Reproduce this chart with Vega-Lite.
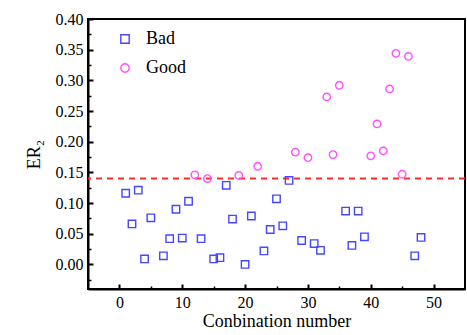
{
  "$schema": "https://vega.github.io/schema/vega-lite/v6.json",
  "width": 377,
  "height": 270,
  "autosize": "none",
  "padding": {"left": 88, "top": 19, "right": 2, "bottom": 46},
  "config": {
    "font": "Liberation Serif",
    "view": {"stroke": "black", "strokeWidth": 2},
    "axis": {
      "domainColor": "black", "domainWidth": 2, "tickColor": "black", "tickWidth": 2,
      "tickSize": -5, "grid": false, "labelFontSize": 16, "titleFontSize": 18, "labelOverlap": false,
      "labelColor": "black", "titleColor": "black", "titleFontWeight": "normal", "labelFont": "Liberation Serif", "titleFont": "Liberation Serif"
    },
    "legend": {"labelFont": "Liberation Serif, serif", "labelColor": "black", "labelFontSize": 18}
  },
  "datasets": {
    "pts": [
      {"n": 1, "er": 0.116, "group": "Bad"},
      {"n": 2, "er": 0.066, "group": "Bad"},
      {"n": 3, "er": 0.121, "group": "Bad"},
      {"n": 4, "er": 0.009, "group": "Bad"},
      {"n": 5, "er": 0.076, "group": "Bad"},
      {"n": 7, "er": 0.014, "group": "Bad"},
      {"n": 8, "er": 0.042, "group": "Bad"},
      {"n": 9, "er": 0.090, "group": "Bad"},
      {"n": 10, "er": 0.043, "group": "Bad"},
      {"n": 11, "er": 0.103, "group": "Bad"},
      {"n": 13, "er": 0.042, "group": "Bad"},
      {"n": 15, "er": 0.009, "group": "Bad"},
      {"n": 16, "er": 0.011, "group": "Bad"},
      {"n": 17, "er": 0.129, "group": "Bad"},
      {"n": 18, "er": 0.074, "group": "Bad"},
      {"n": 20, "er": 0.000, "group": "Bad"},
      {"n": 21, "er": 0.079, "group": "Bad"},
      {"n": 23, "er": 0.022, "group": "Bad"},
      {"n": 24, "er": 0.057, "group": "Bad"},
      {"n": 25, "er": 0.107, "group": "Bad"},
      {"n": 26, "er": 0.063, "group": "Bad"},
      {"n": 27, "er": 0.137, "group": "Bad"},
      {"n": 29, "er": 0.039, "group": "Bad"},
      {"n": 31, "er": 0.034, "group": "Bad"},
      {"n": 32, "er": 0.023, "group": "Bad"},
      {"n": 36, "er": 0.087, "group": "Bad"},
      {"n": 37, "er": 0.031, "group": "Bad"},
      {"n": 38, "er": 0.087, "group": "Bad"},
      {"n": 39, "er": 0.045, "group": "Bad"},
      {"n": 47, "er": 0.014, "group": "Bad"},
      {"n": 48, "er": 0.044, "group": "Bad"},
      {"n": 12, "er": 0.146, "group": "Good"},
      {"n": 14, "er": 0.140, "group": "Good"},
      {"n": 19, "er": 0.145, "group": "Good"},
      {"n": 22, "er": 0.160, "group": "Good"},
      {"n": 28, "er": 0.183, "group": "Good"},
      {"n": 30, "er": 0.174, "group": "Good"},
      {"n": 33, "er": 0.273, "group": "Good"},
      {"n": 34, "er": 0.179, "group": "Good"},
      {"n": 35, "er": 0.292, "group": "Good"},
      {"n": 40, "er": 0.177, "group": "Good"},
      {"n": 41, "er": 0.229, "group": "Good"},
      {"n": 42, "er": 0.185, "group": "Good"},
      {"n": 43, "er": 0.286, "group": "Good"},
      {"n": 44, "er": 0.344, "group": "Good"},
      {"n": 45, "er": 0.147, "group": "Good"},
      {"n": 46, "er": 0.339, "group": "Good"}
    ],
    "thr": [{"er": 0.14}]
  },
  "resolve": {"axis": {"x": "independent", "y": "independent"}},
  "layer": [
    {
      "data": {"name": "pts"},
      "mark": {"type": "point", "opacity": 0},
      "encoding": {
        "x": {"field": "n", "type": "quantitative", "scale": {"domain": [-5, 55], "nice": false, "zero": false},
              "axis": {"orient": "bottom", "values": [5, 15, 25, 35, 45], "labels": false, "domain": false, "title": null, "tickSize": -3, "tickWidth": 1.5}},
        "y": {"field": "er", "type": "quantitative", "scale": {"domain": [-0.04, 0.4], "nice": false, "zero": false},
              "axis": {"orient": "left", "values": [-0.025, 0.025, 0.075, 0.125, 0.175, 0.225, 0.275, 0.325, 0.375], "labels": false, "domain": false, "title": null, "tickSize": -3, "tickWidth": 1.5}}
      }
    },
    {
      "data": {"name": "thr"},
      "mark": {"type": "rule", "color": "#ff2a2a", "strokeWidth": 2, "strokeDash": [6, 5]},
      "encoding": {"y": {"field": "er", "type": "quantitative", "axis": null}}
    },
    {
      "data": {"name": "pts"},
      "mark": {"type": "point", "filled": false, "strokeWidth": 1.4, "opacity": 1},
      "encoding": {
        "x": {"field": "n", "type": "quantitative",
              "axis": {"orient": "bottom", "values": [0, 10, 20, 30, 40, 50], "title": "Conbination number", "labelPadding": 10, "titlePadding": 2}},
        "y": {"field": "er", "type": "quantitative",
              "axis": {"orient": "left", "values": [0, 0.05, 0.1, 0.15, 0.2, 0.25, 0.3, 0.35, 0.4], "format": ".2f", "title": "ER₂", "labelPadding": 10, "titlePadding": 12}},
        "shape": {"field": "group", "type": "nominal", "scale": {"domain": ["Bad", "Good"], "range": ["square", "circle"]},
                  "legend": {"title": null, "orient": "none", "legendX": 28, "legendY": 11, "rowPadding": 11, "symbolSize": 70, "symbolStrokeWidth": 1.4, "labelOffset": 12}},
        "color": {"field": "group", "type": "nominal", "scale": {"domain": ["Bad", "Good"], "range": ["#4646ff", "#ff50ff"]}},
        "size": {"value": 55}
      }
    }
  ]
}
